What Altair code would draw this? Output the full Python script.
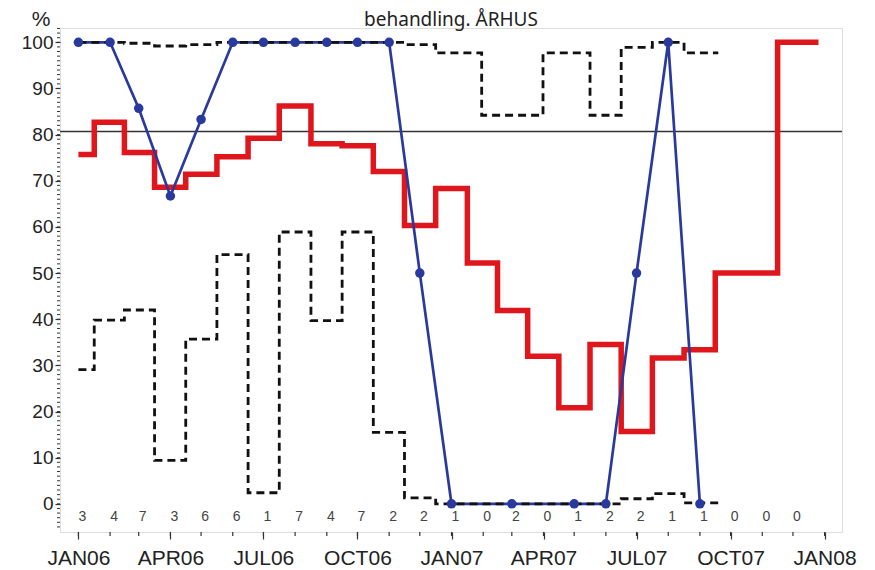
import altair as alt
import pandas as pd

# ---------------- data ----------------
month_starts = list(pd.date_range("2006-01-01", "2007-12-01", freq="MS"))
counts = [3, 4, 7, 3, 6, 6, 1, 7, 4, 7, 2, 2, 1, 0, 2, 0, 1, 2, 2, 1, 1, 0, 0, 0]
red_pct = [75.7, 82.7, 76.1, 68.6, 71.4, 75.2, 79.2, 86.2, 78.0, 77.6, 72.0, 60.3,
           68.3, 52.2, 41.9, 32.0, 20.8, 34.5, 15.7, 31.6, 33.4, 50.0, 50.0, 100.0]
blue_pct = [100, 100, 85.7, 66.7, 83.3, 100, 100, 100, 100, 100, 100, 50,
            0, None, 0, None, 0, 0, 50, 100, 0, None, None, None]
upper_pct = [100, 100, 99.8, 99.2, 99.5, 100, 100, 100, 100, 100, 100, 99.5,
             97.7, None, 84.2, None, 97.7, 84.2, 98.9, 100, 97.7, None, None, None]
lower_pct = [29.1, 39.8, 42.0, 9.4, 35.7, 54.0, 2.4, 58.9, 39.7, 58.9, 15.5, 1.3,
             0, None, 0, None, 0, 0, 1.1, 2.2, 0.2, None, None, None]
reference_level = 80.7
count_row_level = -2.8
y_major_ticks = list(range(0, 101, 10))
y_minor_ticks = list(range(-5, 104))
x_month_ticks = list(pd.date_range("2006-01-01", "2008-01-01", freq="MS"))
x_quarter_ticks = [(2006, 1), (2006, 4), (2006, 7), (2006, 10), (2007, 1),
                   (2007, 4), (2007, 7), (2007, 10), (2008, 1)]
title_text = "behandling. ÅRHUS"
y_unit_text = "%"
end_pad_days = {"red": 25, "bounds": 18}

# ---------------- build tables ----------------
def series_frame(values, name, pad):
    rows = [(d, v) for d, v in zip(month_starts, values) if v is not None]
    last_d, last_v = rows[-1]
    rows.append((last_d + pd.Timedelta(days=pad), last_v))
    df = pd.DataFrame(rows, columns=["date", "value"])
    df["series"] = name
    return df

red_df = series_frame(red_pct, "red", end_pad_days["red"])
bounds_df = pd.concat([series_frame(upper_pct, "upper", end_pad_days["bounds"]),
                       series_frame(lower_pct, "lower", end_pad_days["bounds"])])
blue_df = pd.DataFrame({"date": month_starts, "value": blue_pct}).dropna()
count_df = pd.DataFrame({"date": month_starts, "n": counts, "level": count_row_level})
ref_df = pd.DataFrame({"value": [reference_level]})
ymin_df = pd.DataFrame({"value": y_minor_ticks})
xmin_df = pd.DataFrame({"date": x_month_ticks})
label_df = pd.DataFrame({"t": [title_text]})
unit_df = pd.DataFrame({"t": [y_unit_text]})

W, H = 782, 504
FONT = "Liberation Sans"
BLUE = "#2a3a9c"

x_scale = alt.Scale(domain=[alt.DateTime(year=2005, month=12, date=14),
                            alt.DateTime(year=2008, month=1, date=18)], nice=False)
y_scale = alt.Scale(domain=[-6.1, 103.1], nice=False, zero=False)

x_axis = alt.Axis(
    values=[alt.DateTime(year=y, month=m, date=1) for y, m in x_quarter_ticks],
    labelExpr="upper(timeFormat(datum.value, '%b%y'))",
    title=None, grid=False, domain=False, tickSize=7, tickWidth=1.2,
    tickColor="#333", labelFontSize=21, labelFont=FONT, labelColor="#222",
    labelPadding=8, labelFlush=False, labelOverlap=False,
)
y_axis = alt.Axis(
    values=y_major_ticks, title=None, grid=False, domain=False, tickSize=5,
    tickWidth=1.2, tickColor="#333", labelFontSize=19, labelFont=FONT,
    labelColor="#222", labelPadding=2,
)

def X(field="date"):
    return alt.X(f"{field}:T", scale=x_scale, axis=x_axis)

def Y(field="value"):
    return alt.Y(f"{field}:Q", scale=y_scale, axis=y_axis)

ref = alt.Chart(ref_df).mark_rule(color="#333", strokeWidth=1.5).encode(y=Y())

red = alt.Chart(red_df).mark_line(
    color="#e0161d", strokeWidth=5.5, interpolate="step", strokeCap="butt", strokeJoin="miter"
).encode(x=X(), y=Y())

blue_line = alt.Chart(blue_df).mark_line(color=BLUE, strokeWidth=2.7).encode(x=X(), y=Y())

bounds = alt.Chart(bounds_df).mark_line(
    color="#111", strokeWidth=2.8, strokeDash=[8, 5], interpolate="step"
).encode(x=X(), y=Y(), detail="series:N")

blue_pts = alt.Chart(blue_df).mark_circle(color=BLUE, size=90, opacity=1).encode(x=X(), y=Y())

count_txt = alt.Chart(count_df).mark_text(
    fontSize=14, font=FONT, color="#444", dx=4, baseline="middle"
).encode(x=X(), y=Y("level"), text="n:Q")

y_minor = alt.Chart(ymin_df).mark_rule(color="#333", strokeWidth=1).encode(
    y=Y(), x=alt.value(-3), x2=alt.value(0))

x_minor = alt.Chart(xmin_df).mark_rule(color="#333", strokeWidth=1.2).encode(
    x=X(), y=alt.value(H), y2=alt.value(H + 4))

title = alt.Chart(label_df).mark_text(
    font="Noto Sans", fontSize=19, color="#222", align="center", baseline="alphabetic"
).encode(text="t:N", x=alt.value(W / 2), y=alt.value(-2))

unit = alt.Chart(unit_df).mark_text(
    font=FONT, fontSize=21, color="#222", align="center", baseline="alphabetic"
).encode(text="t:N", x=alt.value(-19), y=alt.value(-2.5))

chart = alt.layer(
    ref, red, blue_line, bounds, blue_pts, count_txt, y_minor, x_minor, title, unit
).properties(
    width=W, height=H,
    autosize=alt.AutoSizeParams(type="none"),
    padding={"left": 52, "top": 20, "right": 25, "bottom": 38},
).configure_view(
    stroke="#333", strokeWidth=1.5
).configure(background="white")

chart.save("out.html", embed_options={"renderer": "svg", "actions": False})
